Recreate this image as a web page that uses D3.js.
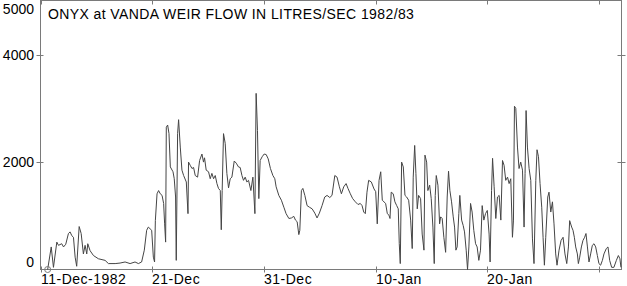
<!DOCTYPE html>
<html>
<head>
<meta charset="utf-8">
<script src="https://cdn.jsdelivr.net/npm/d3@7"></script>
<style>
  body { margin: 0; background: #fff; }
  svg { display: block; font-family: "Liberation Sans", Arial, sans-serif; }
  .lbl { font-size: 14px; fill: #000; }
</style>
</head>
<body>
<div id="chart"></div>
<script>
// time in days after 11-Dec-1982 00:00, flow in litres/sec
var days = [0.64, 0.96, 1.16, 1.46, 1.61, 1.90, 2.06, 2.26, 2.50, 2.65, 2.80, 2.95, 3.10, 3.24, 3.46, 3.64, 3.84, 3.99, 4.14, 4.23,
    4.44, 4.74, 5.18, 5.78, 6.08, 6.68, 7.12, 7.57, 8.02, 8.46, 8.76, 9.05, 9.29, 9.50, 9.65, 9.95, 10.10, 10.21, 10.28, 10.43,
    10.57, 10.72, 10.88, 11.02, 11.11, 11.20, 11.26, 11.38, 11.50, 11.62, 11.86, 11.97, 12.09, 12.15, 12.27, 12.36, 12.51, 12.66, 12.81, 13.05,
    13.20, 13.25, 13.40, 13.56, 13.70, 13.85, 14.06, 14.24, 14.45, 14.59, 14.68, 14.83, 15.04, 15.19, 15.34, 15.49, 15.64, 15.79, 15.93, 16.09,
    16.18, 16.26, 16.38, 16.53, 16.68, 16.83, 16.98, 17.13, 17.34, 17.52, 17.72, 17.87, 18.03, 18.17, 18.32, 18.47, 18.62, 18.83, 19.01, 19.19,
    19.30, 19.42, 19.54, 19.66, 19.84, 20.02, 20.20, 20.38, 20.58, 20.80, 20.97, 21.09, 21.33, 21.56, 21.78, 21.98, 22.23, 22.46, 22.67, 22.82,
    22.97, 23.12, 23.21, 23.35, 23.48, 23.66, 23.86, 24.07, 24.31, 24.55, 24.75, 24.96, 25.20, 25.44, 25.65, 25.89, 26.09, 26.34, 26.54, 26.75,
    26.93, 27.14, 27.35, 27.52, 27.73, 27.94, 28.18, 28.42, 28.62, 28.78, 28.93, 29.07, 29.22, 29.37, 29.61, 29.85, 30.00, 30.14, 30.30, 30.45,
    30.59, 30.74, 30.89, 31.04, 31.19, 31.28, 31.39, 31.57, 31.72, 31.88, 32.02, 32.11, 32.20, 32.32, 32.47, 32.62, 32.77, 32.95, 33.13, 33.27,
    33.36, 33.49, 33.60, 33.72, 33.84, 34.02, 34.16, 34.32, 34.41, 34.56, 34.67, 34.83, 34.97, 35.12, 35.24, 35.33, 35.42, 35.57, 35.72, 35.81,
    35.95, 36.10, 36.26, 36.40, 36.52, 36.64, 36.79, 36.94, 37.06, 37.18, 37.29, 37.44, 37.53, 37.69, 37.83, 37.95, 38.10, 38.22, 38.34, 38.49,
    38.63, 38.78, 38.94, 39.08, 39.23, 39.38, 39.53, 39.68, 39.83, 39.99, 40.15, 40.24, 40.37, 40.46, 40.60, 40.75, 40.90, 41.05, 41.20, 41.35,
    41.49, 41.64, 41.80, 41.94, 42.09, 42.24, 42.33, 42.42, 42.54, 42.69, 42.83, 42.98, 43.14, 43.28, 43.37, 43.46, 43.58, 43.73, 43.88, 44.03,
    44.17, 44.33, 44.44, 44.57, 44.71, 44.86, 44.98, 45.10, 45.22, 45.40, 45.51, 45.67, 45.82, 45.96, 46.11, 46.23, 46.41, 46.59, 46.77, 46.94,
    47.10, 47.25, 47.36, 47.54, 47.66, 47.78, 47.90, 48.05, 48.14, 48.26, 48.41, 48.55, 48.70, 48.82, 48.95, 49.09, 49.24, 49.39, 49.54, 49.69,
    49.84, 49.98, 50.13, 50.29, 50.43, 50.64, 50.79, 50.94, 51.12, 51.32, 51.54, 51.72, 51.86, 51.95];

var flow = [0, 420, 40, 510, 450, 480, 420, 470, 670, 700, 630, 600, 230, 60, 800, 670, 290, 450, 290, 480,
    350, 260, 200, 170, 110, 110, 120, 140, 110, 140, 110, 140, 360, 730, 790, 730, 230, 140, 910, 1410,
    1470, 1410, 1380, 1230, 850, 510, 2650, 2690, 2530, 1910, 1820, 1690, 1350, 170, 2530, 2790, 2280, 1850, 1750, 1630,
    1040, 2000, 1940, 1880, 1900, 1750, 1720, 2030, 2150, 2000, 2080, 1850, 1820, 1690, 1790, 1690, 1750, 1600, 1510, 1470,
    740, 1470, 2530, 2350, 1790, 1520, 1690, 1720, 2020, 1980, 1910, 1900, 1750, 1660, 1720, 1630, 1660, 1470, 1720, 1040,
    3280, 2590, 1320, 2030, 2100, 2150, 2140, 2060, 1880, 1750, 1690, 1540, 1380, 1290, 1160, 1040, 950, 960, 990, 920,
    890, 650, 730, 1470, 1510, 1380, 1190, 1160, 1130, 1050, 960, 1050, 1190, 1350, 1380, 1340, 1380, 1750, 1720, 1540,
    1410, 1540, 1600, 1510, 1410, 1320, 1260, 1210, 1230, 1190, 1070, 1040, 1440, 1660, 1630, 1500, 1450, 850, 1660, 1820,
    1290, 1260, 1230, 1040, 1010, 950, 1440, 1410, 1260, 1190, 1130, 480, 110, 2000, 1910, 1380, 1350, 1290, 920, 390,
    1720, 2310, 1790, 1130, 1380, 1320, 660, 360, 2130, 2000, 1470, 1570, 1320, 790, 110, 1380, 1750, 1570, 850, 980,
    950, 600, 320, 1350, 1830, 1470, 1260, 980, 790, 360, 420, 1040, 1380, 920, 820, 700, 360, 0, 420, 1230,
    1070, 730, 480, 420, 170, 360, 1190, 920, 1040, 1100, 660, 140, 1470, 2070, 1540, 950, 1350, 1380, 920, 2030,
    1940, 1660, 1720, 1600, 1690, 600, 920, 3040, 3000, 2280, 1880, 2000, 1850, 790, 1790, 2960, 2280, 1880, 1660, 570,
    110, 1660, 2230, 2100, 1600, 1160, 600, 80, 600, 1350, 1440, 1070, 1260, 850, 290, 80, 360, 540, 600, 290,
    110, 420, 910, 790, 730, 600, 420, 290, 110, 230, 420, 540, 600, 670, 420, 140, 290, 450, 480, 420,
    260, 110, 80, 170, 290, 390, 420, 170, 40, 40, 170, 260, 200, 40];

var yTicks = [0, 2000, 4000, 5000];
var xTickDates = ["1982-12-11", "1982-12-21", "1982-12-31", "1983-01-10", "1983-01-20", "1983-01-30"];
var xTickLabels = ["11-Dec-1982", "21-Dec", "31-Dec", "10-Jan", "20-Jan", ""];
var title = "ONYX at VANDA WEIR FLOW IN LITRES/SEC 1982/83";

var W = 627, H = 286,
    pLeft = 40.5, pRight = 621.5, pTop = 0.5, pBottom = 269.5;

var parse = d3.timeParse("%Y-%m-%d");
var start = parse("1982-12-11"), end = parse("1983-02-01");

var data = days.map(function (d, i) {
    return { t: new Date(start.getTime() + d * 864e5), v: flow[i] };
});

var x = d3.scaleTime().domain([start, end]).range([pLeft, pRight]);
var y = d3.scaleLinear().domain([0, 5000]).range([pBottom, pTop + 0.5]);

var svg = d3.select("#chart").append("svg")
    .attr("width", W)
    .attr("height", H);

var axisCol = "#7a7a7a";

// frame
svg.append("rect")
    .attr("x", pLeft).attr("y", pTop)
    .attr("width", pRight - pLeft).attr("height", pBottom - pTop)
    .attr("fill", "none").attr("stroke", axisCol).attr("stroke-width", 1);

var tickTimes = xTickDates.map(parse);

// x ticks, bottom (crossing) and top (inward)
tickTimes.forEach(function (t, i) {
    var px = Math.round(x(t)) + 0.5;
    svg.append("line").attr("x1", px).attr("x2", px).attr("y1", pBottom - 3).attr("y2", pBottom + 3).attr("stroke", axisCol);
    svg.append("line").attr("x1", px).attr("x2", px).attr("y1", pTop).attr("y2", pTop + 4).attr("stroke", axisCol);
    svg.append("text").attr("class", "lbl")
        .attr("x", px - 0.5).attr("y", 284)
        .style("letter-spacing", "0.5px")
        .text(xTickLabels[i]);
});

// y ticks, left and right (crossing)
yTicks.forEach(function (v) {
    var py = Math.round(y(v)) + 0.5;
    if (v > 0 && v < 5000) {
        svg.append("line").attr("x1", pLeft - 4).attr("x2", pLeft + 3).attr("y1", py).attr("y2", py).attr("stroke", axisCol);
        svg.append("line").attr("x1", pRight - 4).attr("x2", pRight + 4).attr("y1", py).attr("y2", py).attr("stroke", axisCol);
    }
    svg.append("text").attr("class", "lbl")
        .attr("x", 34).attr("text-anchor", "end")
        .attr("y", Math.max(13.5, Math.min(266.5, y(v) + 5)))
        .text(v);
});

// title
svg.append("text").attr("class", "lbl")
    .attr("x", 48).attr("y", 18.5)
    .style("letter-spacing", "0.4px")
    .text(title);

var line = d3.line()
    .x(function (d) { return x(d.t); })
    .y(function (d) { return y(d.v); });

svg.append("path")
    .datum(data)
    .attr("d", line)
    .attr("fill", "none")
    .attr("stroke", "#454545")
    .attr("stroke-width", 1);

// start marker
svg.append("circle")
    .attr("cx", x(data[0].t)).attr("cy", y(data[0].v))
    .attr("r", 3)
    .attr("fill", "none").attr("stroke", axisCol);
</script>
</body>
</html>
